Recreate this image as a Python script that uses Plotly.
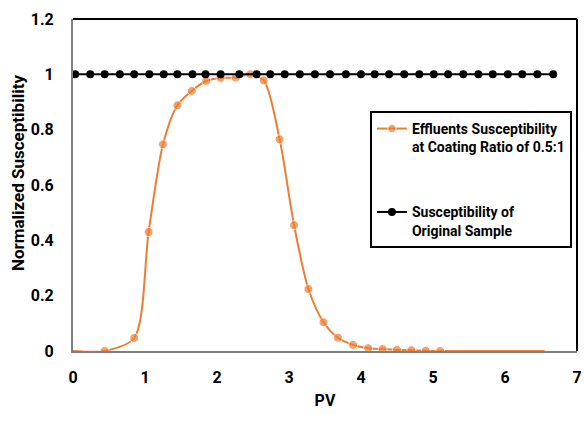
import plotly.graph_objects as go

# Effluent series
pv_eff = [0.0, 0.44, 0.85, 1.05, 1.25, 1.45, 1.65, 1.85, 2.05, 2.26, 2.46, 2.65,
          2.87, 3.07, 3.27, 3.48, 3.68, 3.89, 4.10, 4.30, 4.50, 4.70, 4.90, 5.10, 6.55]
sus_eff = [0.0, 0.0, 0.047, 0.43, 0.747, 0.888, 0.94, 0.976, 0.987, 0.988, 1.0, 0.978,
           0.765, 0.455, 0.224, 0.104, 0.048, 0.022, 0.010, 0.007, 0.004, 0.003, 0.001, 0.0, 0.0]
eff_marker_shown = [False] + [True] * 23 + [False]

# Original sample series
pv_orig = [0.03, 0.24, 0.44, 0.65, 0.85, 1.06, 1.26, 1.45, 1.66, 1.84, 2.05, 2.31,
           2.55, 2.74, 2.94, 3.15, 3.36, 3.57, 3.79, 4.00, 4.19, 4.39, 4.60, 4.81,
           5.01, 5.21, 5.42, 5.63, 5.83, 6.04, 6.24, 6.45, 6.67]
sus_orig = [1.0] * len(pv_orig)

x_ticks = [0, 1, 2, 3, 4, 5, 6, 7]
y_ticks = [0, 0.2, 0.4, 0.6, 0.8, 1.0, 1.2]
y_tick_text = ["0", "0.2", "0.4", "0.6", "0.8", "1", "1.2"]

FONT = "Roboto, Arial, sans-serif"
ORANGE = "#ED7D31"

fig = go.Figure()
fig.add_trace(go.Scatter(
    x=pv_eff, y=sus_eff, mode="lines+markers", legendgroup="eff",
    name="<b>Effluents Susceptibility</b><br><b>at Coating Ratio of 0.5:1</b>",
    line=dict(color=ORANGE, width=2, shape="spline", smoothing=0.8),
    marker=dict(color=ORANGE, size=[9 if s else 0 for s in eff_marker_shown]),
))
fig.add_trace(go.Scatter(
    x=pv_orig, y=sus_orig, mode="lines+markers", legendgroup="orig",
    name="<b>Susceptibility of</b><br><b>Original Sample</b>",
    line=dict(color="black", width=2),
    marker=dict(color="black", size=8),
))

fig.update_layout(
    width=584, height=425,
    margin=dict(l=73, r=7, t=19, b=74),
    paper_bgcolor="white", plot_bgcolor="white",
    font=dict(family=FONT, size=15, color="black"),
    showlegend=True,
    legend=dict(
        x=0.99, y=0.723, xanchor="right", yanchor="top",
        bordercolor="black", borderwidth=2, bgcolor="white",
        font=dict(family=FONT, size=14, color="black"),
        tracegroupgap=44, itemwidth=30, valign="top",
    ),
    xaxis=dict(
        range=[0, 7], tickvals=x_ticks, showgrid=False, zeroline=False,
        showline=True, linecolor="#7f7f7f", linewidth=2, automargin=False,
        ticks="", ticklabelstandoff=11,
        ticktext=["<b>%d</b>" % v for v in x_ticks],
        tickfont=dict(family=FONT, size=16, color="black"),
        title=dict(text="<b>PV</b>", font=dict(family=FONT, size=16), standoff=9),
    ),
    yaxis=dict(
        range=[0, 1.2], tickvals=y_ticks, ticktext=["<b>%s</b>" % t for t in y_tick_text],
        showgrid=False, zeroline=False, automargin=False,
        showline=True, linecolor="#7f7f7f", linewidth=2,
        ticks="", ticklabelstandoff=14,
        tickfont=dict(family=FONT, size=16, color="black"),
    ),
    annotations=[dict(
        text="<b>Normalized Susceptibility</b>", textangle=-90,
        xref="paper", yref="paper", x=-0.109, y=0.536,
        xanchor="center", yanchor="middle", showarrow=False,
        font=dict(family=FONT, size=17, color="black"),
    )],
)
# top and right frame edges
fig.add_shape(type="line", xref="paper", yref="paper", x0=0, x1=1, y0=1, y1=1,
              line=dict(color="black", width=2))
fig.add_shape(type="line", xref="paper", yref="paper", x0=1, x1=1, y0=0, y1=1,
              line=dict(color="black", width=2))

fig.write_html("out.html")
